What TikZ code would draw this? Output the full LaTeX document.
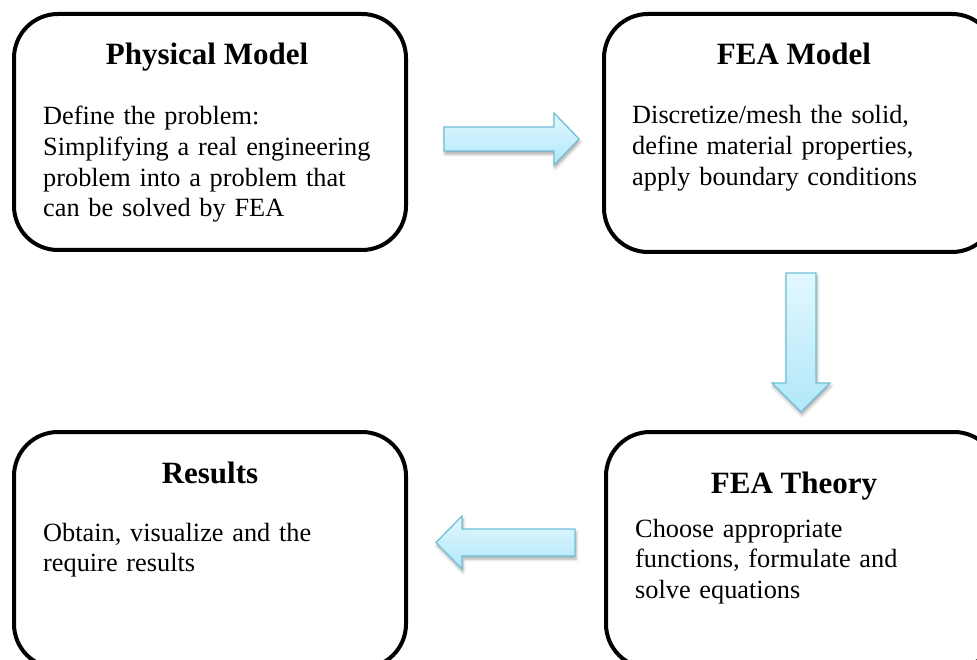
\documentclass[tikz,border=0pt]{standalone}
\usepackage{fontspec}
\setmainfont{Liberation Serif}
\usetikzlibrary{calc,shadows.blur}

\definecolor{flechebord}{HTML}{6FBFD6}
\definecolor{flechehaut}{HTML}{E3F8FE}
\definecolor{flechebas}{HTML}{B0E7F8}

\begin{document}
\begin{tikzpicture}[
  x=1pt, y=-1pt,
  bloc/.style={draw, line width=4pt, rounded corners=44pt,
    minimum width=392pt, minimum height=236pt,
    anchor=north west, inner sep=0pt, outer sep=0pt},
  titre/.style={font=\fontsize{31}{36}\selectfont\bfseries,
    anchor=base, inner sep=0pt},
  texte/.style={font=\fontsize{26.3}{30.6}\selectfont, align=left,
    text width=350pt, anchor=base west, inner sep=0pt},
  fleche/.style={draw=flechebord, line width=1.2pt, line join=miter,
    top color=flechehaut, bottom color=flechebas,
    blur shadow={shadow xshift=1pt, shadow yshift=-3pt,
      shadow blur radius=3pt, shadow opacity=35}},
]
  % Cadre
  \useasboundingbox (0,0) rectangle (977,660);
  \clip (0,0) rectangle (977,660);

  % Blocs
  \node[bloc] (physique) at (14,14) {};
  \node[bloc, minimum height=238pt] (modele) at (604,14) {};
  \node[bloc] (resultats) at (14,432) {};
  \node[bloc] (theorie) at (606,432) {};

  % Titres
  \node[titre] (tphysique) at ($(physique.north)+(-3,51)$) {Physical Model};
  \node[titre] (tmodele)   at ($(modele.north)+(-6,51)$)   {FEA Model};
  \node[titre] (tresultats) at ($(resultats.north)+(0,51)$) {Results};
  \node[titre] (ttheorie)  at ($(theorie.north)+(-8,61)$)  {FEA Theory};

  % Textes
  \node[texte] (dphysique) at ($(physique.north west)+(29,111)$)
    {Define the problem:\\ Simplifying a real engineering\\
     problem into a problem that\\ can be solved by FEA};
  \node[texte] (dmodele) at ($(modele.north west)+(28,110)$)
    {Discretize/mesh the solid,\\ define material properties,\\
     apply boundary conditions};
  \node[texte] (dresultats) at ($(resultats.north west)+(29,109)$)
    {Obtain, visualize and the\\ require results};
  \node[texte] (dtheorie) at ($(theorie.north west)+(29,105)$)
    {Choose appropriate\\ functions, formulate and\\ solve equations};

  % Fleches
  \coordinate (f1) at (444,139);  % physique -> modele
  \coordinate (f2) at (801,273);  % modele -> theorie
  \coordinate (f3) at (575,542.5);% theorie -> resultats
  \path[fleche] (f1) ++(0,-12) -- ++(110,0) -- ++(0,-14) -- ++(25,26)
    -- ++(-25,26) -- ++(0,-14) -- ++(-110,0) -- cycle;
  \path[fleche] (f2) ++(-15,0) -- ++(30,0) -- ++(0,110) -- ++(14,0)
    -- ++(-29,29) -- ++(-29,-29) -- ++(14,0) -- cycle;
  \path[fleche] (f3) ++(0,-13.5) -- ++(-113,0) -- ++(0,-13) -- ++(-26,26.5)
    -- ++(26,26.5) -- ++(0,-13) -- ++(113,0) -- cycle;
\end{tikzpicture}
\end{document}
